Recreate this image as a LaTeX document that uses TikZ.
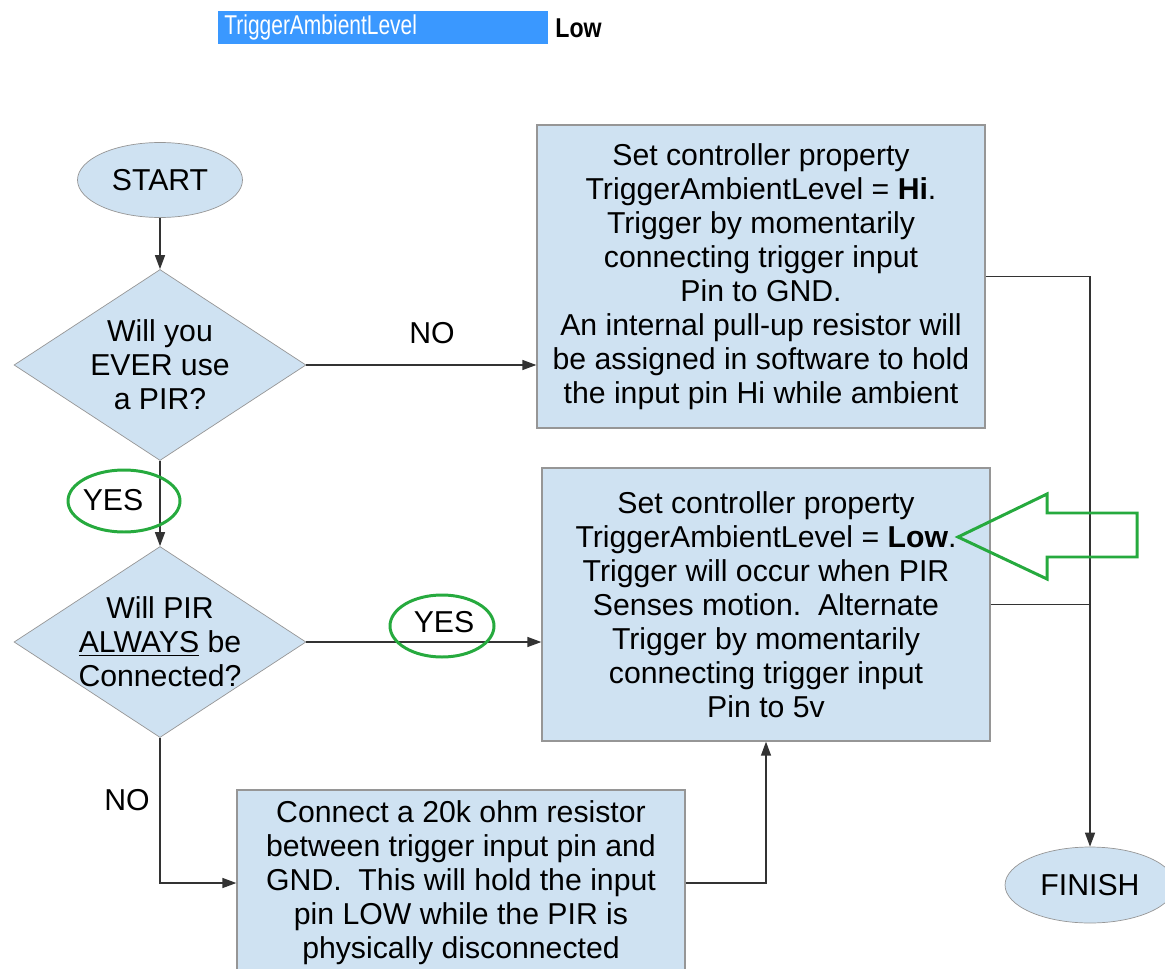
\documentclass[tikz,border=0pt]{standalone}
\usepackage{fontspec}
\setmainfont{Liberation Sans}
\usetikzlibrary{shapes.geometric,arrows.meta}
\definecolor{boxfill}{RGB}{207,226,242}
\definecolor{boxline}{RGB}{150,150,150}
\definecolor{markgreen}{RGB}{38,170,62}
\definecolor{selblue}{RGB}{58,152,255}
\newcommand{\flowfont}{\fontsize{17.2pt}{19.4pt}\selectfont}
\begin{document}
\begin{tikzpicture}[x=0.02cm,y=-0.02cm]
      \tikzset{terminal/.style={draw=boxline, fill=boxfill, ellipse, inner sep=0pt, minimum width=3.3cm, minimum height=1.5cm, font=\flowfont},
               decision/.style={draw=boxline, fill=boxfill, diamond, inner sep=0pt, minimum width=5.84cm, minimum height=3.82cm},
               process/.style={draw=boxline, fill=boxfill, line width=0.8pt, inner sep=0pt, minimum width=8.96cm, align=center, font=\flowfont},
               flow/.style={draw=black!80, line width=0.8pt, -{Triangle[length=0.28cm, width=0.2cm]}},
               joinline/.style={draw=black!80, line width=0.8pt},
               answer/.style={font=\flowfont, inner sep=0pt, align=center},
               ring/.style={draw=markgreen, line width=1.7pt}}
      \useasboundingbox (0,0) rectangle (1165,969);
      \clip (0,0) rectangle (1165,969);
%% Selected property row
	% cut out of the settings list
      	\node[fill=selblue, inner sep=0pt, minimum width=6.6cm, minimum height=0.66cm] (selrow) at (383,27.5) {};
      	\node[anchor=west, text=white, inner sep=0pt, font=\fontsize{15.5pt}{17pt}\selectfont] (selname) at (224,27) {\scalebox{0.77}[1]{TriggerAmbientLevel}};
      	\node[anchor=west, inner sep=0pt, font=\fontsize{15.5pt}{17pt}\selectfont\bfseries] (selvalue) at (555,28) {\scalebox{0.85}[1]{Low}};
%% Shapes
	% terminals
      	\node[terminal] (start) at (160,180) {START};
      	\node[terminal, minimum width=3.4cm, minimum height=1.52cm] (finish) at (1090,885) {FINISH};
	% decisions, text set on top
      	\node[decision] (everpir) at (160,365) {};
      	\node[answer] (everpirtext) at (everpir) {Will you\\EVER use\\a PIR?};
      	\node[decision] (always) at (160,642) {};
      	\node[answer] (alwaystext) at (always) {Will PIR\\\underline{ALWAYS} be\\Connected?};
	% processes
      	\node[process, minimum height=6.06cm] (sethi) at (761,276.5) {Set controller property\\TriggerAmbientLevel = \textbf{Hi}.\\Trigger by momentarily\\connecting trigger input\\Pin to GND.\\An internal pull-up resistor will\\be assigned in software to hold\\the input pin Hi while ambient};
      	\node[process, minimum height=5.46cm] (setlow) at (766,604.5) {Set controller property\\TriggerAmbientLevel = \textbf{Low}.\\Trigger will occur when PIR\\Senses motion.\ \ Alternate\\Trigger by momentarily\\connecting trigger input\\Pin to 5v};
      	\node[process, minimum height=3.72cm] (resistor) at (461,883) {Connect a 20k ohm resistor\\between trigger input pin and\\GND.\ \ This will hold the input\\pin LOW while the PIR is\\physically disconnected};
%% Connectors
      	\draw[flow] (start) -- (everpir);
      	\draw[flow] (everpir.east) -- (everpir.east -| sethi.west);
      	\draw[flow] (everpir) -- (always);
      	\draw[flow] (always.east) -- (always.east -| setlow.west);
      	\draw[flow] (always.south) |- (resistor.west);
      	\draw[flow] (resistor.east) -| (setlow.south);
      	\draw[flow] (sethi.east) -| (finish.north);
      	\draw[joinline] (setlow.east) -- (setlow.east -| finish.north);
%% Answers
      	\node[answer] (no1) at (432,333) {NO};
      	\node[answer] (yes1) at (113,500) {YES};
      	\node[answer] (yes2) at (444,622) {YES};
      	\node[answer] (no2) at (127,800) {NO};
%% Green marks
      	\draw[ring] (124,501) ellipse [x radius=56, y radius=31];
      	\draw[ring] (442,626) ellipse [x radius=52, y radius=31];
      	\draw[ring, line join=miter] (958,537) -- (1047,494) -- (1047,513) -- (1137,513) -- (1137,557) -- (1047,557) -- (1047,579) -- cycle;

\end{tikzpicture}
\end{document}
